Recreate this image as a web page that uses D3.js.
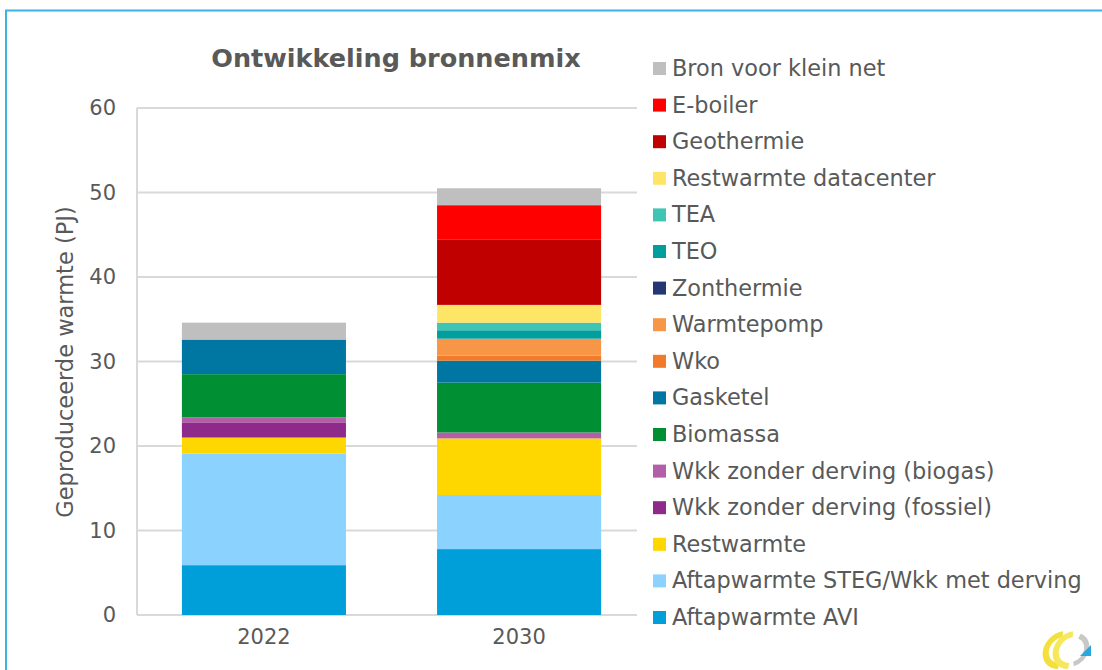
<!DOCTYPE html>
<html>
<head>
<meta charset="utf-8">
<script src="https://cdn.jsdelivr.net/npm/d3@7"></script>
<style>
  body { margin: 0; background: #fff; }
  text { font-family: "DejaVu Sans", Verdana, sans-serif; fill: #595959; }
</style>
</head>
<body>
<svg width="1102" height="670"></svg>
<script>
// categories + series, bottom of the stack first
const years = ["2022", "2030"];
const series = [
  "Aftapwarmte AVI",
  "Aftapwarmte STEG/Wkk met derving",
  "Restwarmte",
  "Wkk zonder derving (fossiel)",
  "Wkk zonder derving (biogas)",
  "Biomassa",
  "Gasketel",
  "Wko",
  "Warmtepomp",
  "Zonthermie",
  "TEO",
  "TEA",
  "Restwarmte datacenter",
  "Geothermie",
  "E-boiler",
  "Bron voor klein net"
];
const colors = [
  "#009fd9", "#8cd2ff", "#ffd700", "#8e2b8a", "#b35ea8", "#008f32",
  "#0076a3", "#f27b2a", "#f79646", "#243673", "#009e9e", "#40c4b4",
  "#ffe566", "#c00000", "#ff0000", "#bfbfbf"
];
// PJ per series
const values2022 = [5.9, 13.2, 1.9, 1.8, 0.6, 5.1, 4.1, 0, 0, 0, 0, 0, 0, 0, 0, 2.0];
const values2030 = [7.8, 6.4, 6.7, 0.0, 0.7, 5.9, 2.6, 0.6, 2.0, 0, 1.0, 0.9, 2.1, 7.7, 4.1, 2.0];
const yTicks = [0, 10, 20, 30, 40, 50, 60];

const svg = d3.select("svg");

// outer frame (only top + left show in the picture)
svg.append("path")
  .attr("d", "M6,670 L6,10.5 L1102,10.5")
  .attr("fill", "none")
  .attr("stroke", "#3fb1e3")
  .attr("stroke-width", 2);

// rows for d3.stack
const rows = years.map((y, i) => {
  const r = { year: y };
  series.forEach((s, k) => r[s] = (i === 0 ? values2022 : values2030)[k]);
  return r;
});
const stacked = d3.stack().keys(series)(rows);

// plot runs under the legend a bit, gridlines get cut at 637
const x = d3.scaleBand().domain(years).range([137, 646]).paddingInner(0.357).paddingOuter(0.176);
const y = d3.scaleLinear().domain([0, 60]).range([615, 108]);

// gridlines
svg.append("g").selectAll("line")
  .data(yTicks)
  .join("line")
  .attr("x1", 137).attr("x2", 637)
  .attr("y1", d => y(d)).attr("y2", d => y(d))
  .attr("stroke", "#d9d9d9").attr("stroke-width", 2);

svg.append("line")
  .attr("x1", 137).attr("x2", 137)
  .attr("y1", y(60)).attr("y2", y(0))
  .attr("stroke", "#d9d9d9").attr("stroke-width", 2);

// bars
svg.append("g").selectAll("g")
  .data(stacked)
  .join("g")
  .attr("fill", (d, i) => colors[i])
  .selectAll("rect")
  .data(d => d)
  .join("rect")
  .attr("x", d => x(d.data.year))
  .attr("width", x.bandwidth())
  .attr("y", d => y(d[1]))
  .attr("height", d => y(d[0]) - y(d[1]));

// y axis labels
const yAxis = svg.append("g")
  .attr("transform", "translate(137,0)")
  .call(d3.axisLeft(y).tickValues(yTicks).tickSize(0).tickPadding(21));
yAxis.select(".domain").remove();
yAxis.selectAll("text")
  .attr("font-size", 21)
  .attr("font-family", "DejaVu Sans")
  .attr("fill", "#595959");

// x axis labels
const xAxis = svg.append("g")
  .attr("transform", "translate(0,615)")
  .call(d3.axisBottom(x).tickSize(0).tickPadding(14));
xAxis.select(".domain").remove();
xAxis.selectAll("text")
  .attr("font-size", 21)
  .attr("font-family", "DejaVu Sans")
  .attr("fill", "#595959");

// titles
svg.append("text")
  .attr("x", 396).attr("y", 67)
  .attr("text-anchor", "middle")
  .attr("font-size", 25.5).attr("font-weight", "bold")
  .text("Ontwikkeling bronnenmix");

svg.append("text")
  .attr("transform", "translate(73,362) rotate(-90)")
  .attr("text-anchor", "middle")
  .attr("font-size", 22.5)
  .text("Geproduceerde warmte (PJ)");

// legend, top row is the last series
const legendOrder = series.map((s, i) => i).reverse();
const legend = svg.append("g").selectAll("g")
  .data(legendOrder)
  .join("g")
  .attr("transform", (d, i) => `translate(653,${68 + i * 36.6})`);

legend.append("rect")
  .attr("x", 0).attr("y", -6)
  .attr("width", 13).attr("height", 13)
  .attr("fill", d => colors[d]);

legend.append("text")
  .attr("x", 19).attr("y", 8)
  .attr("font-size", 22.4)
  .text(d => series[d]);

// little logo bottom right
const logo = svg.append("g").attr("transform", "translate(1068,650)");
const arc = d3.arc();
const crescent = { innerRadius: 13, outerRadius: 19, startAngle: Math.PI * 1.0, endAngle: Math.PI * 1.95 };
logo.append("path")
  .attr("d", arc(crescent))
  .attr("transform", "translate(-6,0) skewX(-12)")
  .attr("fill", "#f3e03a");
logo.append("path")
  .attr("d", arc(crescent))
  .attr("transform", "translate(4,0) skewX(-12)")
  .attr("fill", "#f7e85a");
logo.append("path")
  .attr("d", arc({ innerRadius: 12, outerRadius: 17, startAngle: Math.PI * 0.1, endAngle: Math.PI * 0.9 }))
  .attr("transform", "translate(4,0) skewX(-12)")
  .attr("fill", "#c8c8c8");
logo.append("path")
  .attr("d", "M12,6 L23,-5 L23,6 Z")
  .attr("fill", "#2aa7df");
</script>
</body>
</html>
